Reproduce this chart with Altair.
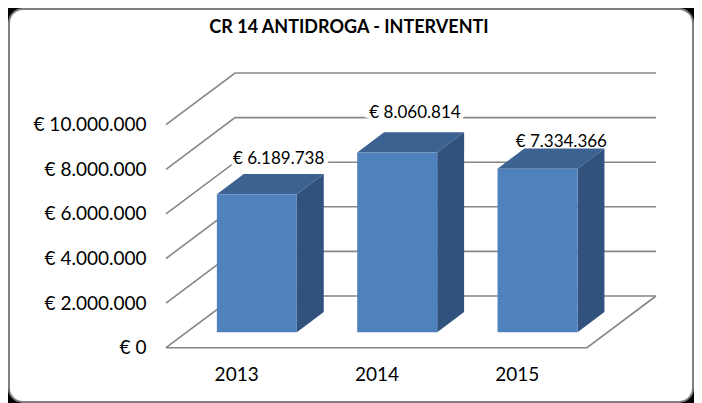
import altair as alt
import pandas as pd

# --- chart values ---
YEARS = ["2013", "2014", "2015"]
AMOUNTS = [6189738, 8060814, 7334366]
TICKS = [0, 2000000, 4000000, 6000000, 8000000, 10000000]

# --- oblique projection (depth 0 = front of floor, 1 = back wall) ---
DEPTH_X = 0.4917        # horizontal shift of the back wall, in categories
DEPTH_Y = 2318000       # vertical shift of the back wall, in euro
BAR_W = 0.57            # bar width in categories
D0, D1 = 0.30, 0.69     # front and back depth of bars
N = len(YEARS)

LINE = "#868686"
FRONT, TOP, SIDE = "#4F81BD", "#3C6291", "#31527C"
FONT = "Lato"

X_SCALE = alt.Scale(domain=[(9 - 166) / 140.33, (693 - 166) / 140.33], nice=False, zero=False)
Y_SCALE = alt.Scale(domain=[(347.7 - 402) / 22.3 * 1e6, (347.7 - 9) / 22.3 * 1e6], nice=False, zero=False)

EURO = "'€ ' + replace(format({v}, ',d'), regexp(',', 'g'), '.')"

# wall + floor lines
lines = []
for t in TICKS:
    lines += [
        {"s": f"g{t}", "x": 0, "y": t},
        {"s": f"g{t}", "x": DEPTH_X, "y": t + DEPTH_Y},
        {"s": f"g{t}", "x": N + DEPTH_X, "y": t + DEPTH_Y},
    ]
lines += [
    {"s": "floor", "x": 0, "y": 0},
    {"s": "floor", "x": N, "y": 0},
    {"s": "floor", "x": N + DEPTH_X, "y": DEPTH_Y},
]

front, side, top = [], [], []
for i, (yr, v) in enumerate(zip(YEARS, AMOUNTS)):
    xl = i + 0.5 - BAR_W / 2
    xr = i + 0.5 + BAR_W / 2
    f0x, f1x = D0 * DEPTH_X, D1 * DEPTH_X
    f0y, f1y = D0 * DEPTH_Y, D1 * DEPTH_Y
    front.append({"x": xl + f0x, "x2": xr + f0x, "y": f0y, "y2": v + f0y})
    side += [
        {"b": yr, "x": xr + f0x, "y": f0y, "y2": v + f0y},
        {"b": yr, "x": xr + f1x, "y": f1y, "y2": v + f1y},
    ]
    top += [
        {"b": yr, "x": xl + f0x, "y": v + f0y, "y2": v + f0y},
        {"b": yr, "x": xl + f1x, "y": v + f0y, "y2": v + f1y},
        {"b": yr, "x": xr + f0x, "y": v + f0y, "y2": v + f1y},
        {"b": yr, "x": xr + f1x, "y": v + f1y, "y2": v + f1y},
    ]

x_axis = alt.Axis(
    title=None, values=[i + 0.5 for i in range(N)], grid=False, ticks=False, domain=False,
    labelExpr="[" + ",".join(f"'{y}'" for y in YEARS) + "][floor(datum.value)]",
    labelPadding=-37, labelFont=FONT, labelFontSize=19, labelColor="black",
)
y_axis = alt.Axis(
    title=None, values=TICKS, grid=False, ticks=False, domain=False,
    labelExpr=EURO.format(v="datum.value"),
    labelPadding=-137, labelFont=FONT, labelFontSize=19, labelColor="black",
)
X = alt.X("x:Q", scale=X_SCALE, axis=x_axis)
Y = alt.Y("y:Q", scale=Y_SCALE, axis=y_axis)

line_layer = alt.Chart(pd.DataFrame(lines)).mark_line(color=LINE, strokeWidth=1.6).encode(x=X, y=Y, detail="s:N")
top_layer = alt.Chart(pd.DataFrame(top)).mark_area(color=TOP).encode(x=X, y=Y, y2="y2:Q", detail="b:N")
side_layer = alt.Chart(pd.DataFrame(side)).mark_area(color=SIDE).encode(x=X, y=Y, y2="y2:Q", detail="b:N")
front_layer = alt.Chart(pd.DataFrame(front)).mark_rect(color=FRONT).encode(x=X, x2="x2:Q", y=Y, y2="y2:Q")

# value labels: each sits where it was placed by hand above its bar;
# the first two interrupt the grid lines behind them
NUDGES = [(8, -15), (4, -19), (10, -6)]
HALO = [True, True, False]
label_layers = []
for i, (v, (dx, dy)) in enumerate(zip(AMOUNTS, NUDGES)):
    d = pd.DataFrame([{"x": i + 0.5 + 0.5 * DEPTH_X, "y": v + D1 * DEPTH_Y, "v": v}])
    base = alt.Chart(d).transform_calculate(label=EURO.format(v="datum.v"))
    common = dict(font=FONT, fontSize=17, dx=dx, dy=dy, align="center", baseline="middle")
    if HALO[i]:
        label_layers.append(base.mark_text(color="white", stroke="white", strokeWidth=9, **common).encode(x=X, y=Y, text="label:N"))
    label_layers.append(base.mark_text(color="black", **common).encode(x=X, y=Y, text="label:N"))

chart = alt.layer(line_layer, top_layer, side_layer, front_layer, *label_layers).properties(
    width=684, height=393,
    padding={"left": 1, "top": 1, "right": 1, "bottom": 1},
    autosize=alt.AutoSizeParams(type="none"),
    background="black",
    title=alt.TitleParams(
        "CR 14 ANTIDROGA - INTERVENTI", font=FONT, fontSize=18, fontWeight="bold", color="black",
        anchor="middle", baseline="middle", offset=-37, dx=-2,
    ),
).configure_view(fill="white", stroke="#7F7F7F", strokeWidth=2, cornerRadius=14)

chart.save("out.html", embed_options={"renderer": "svg", "actions": False})
